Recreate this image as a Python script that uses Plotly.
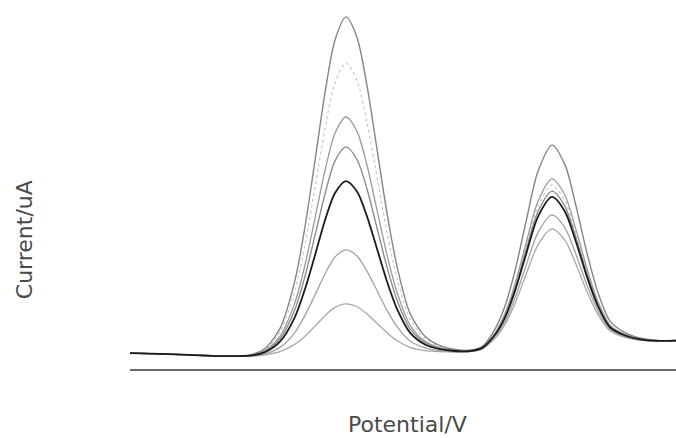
import plotly.graph_objects as go

# Potential sweep (V)
potential = [-1.0, -0.94, -0.88, -0.82, -0.78, -0.76, -0.73, -0.70, -0.67, -0.65,
             -0.63, -0.61, -0.59, -0.568, -0.546, -0.526, -0.506, -0.486, -0.466, -0.44,
             -0.41, -0.38, -0.35, -0.32, -0.296, -0.27, -0.25, -0.23, -0.208, -0.184,
             -0.156, -0.13, -0.108, -0.086, -0.064, -0.04, -0.01, 0.02, 0.056, 0.092]

# Current responses (uA) of the individual scans
current_a = [0.44, 0.42, 0.39, 0.36, 0.37, 0.39, 0.57, 1.13, 2.47, 3.95,
             5.79, 7.67, 9.14, 9.78, 9.21, 7.87, 6.11, 4.33, 2.85, 1.55,
             0.91, 0.65, 0.54, 0.52, 0.62, 1.11, 1.75, 2.73, 4.09, 5.49,
             6.22, 5.67, 4.53, 3.22, 2.12, 1.33, 1.01, 0.86, 0.79, 0.80]
current_b = [0.44, 0.42, 0.39, 0.36, 0.36, 0.39, 0.54, 1.03, 2.19, 3.46,
             5.05, 6.67, 7.95, 8.50, 8.01, 6.85, 5.33, 3.80, 2.52, 1.40,
             0.85, 0.63, 0.53, 0.51, 0.59, 0.99, 1.50, 2.30, 3.39, 4.52,
             5.11, 4.67, 3.76, 2.71, 1.83, 1.20, 0.95, 0.83, 0.78, 0.79]
current_c = [0.44, 0.42, 0.39, 0.36, 0.36, 0.38, 0.51, 0.91, 1.85, 2.89,
             4.19, 5.51, 6.55, 7.00, 6.60, 5.66, 4.42, 3.17, 2.13, 1.22,
             0.77, 0.59, 0.51, 0.51, 0.60, 1.00, 1.54, 2.36, 3.49, 4.66,
             5.28, 4.82, 3.87, 2.79, 1.87, 1.22, 0.96, 0.84, 0.79, 0.79]
current_d = [0.44, 0.42, 0.39, 0.36, 0.36, 0.38, 0.49, 0.84, 1.66, 2.58,
             3.71, 4.86, 5.78, 6.17, 5.82, 5.00, 3.92, 2.83, 1.92, 1.12,
             0.73, 0.57, 0.51, 0.50, 0.59, 0.97, 1.47, 2.23, 3.29, 4.37,
             4.94, 4.52, 3.64, 2.64, 1.79, 1.18, 0.94, 0.83, 0.78, 0.79]
current_e = [0.44, 0.42, 0.39, 0.36, 0.36, 0.37, 0.47, 0.76, 1.45, 2.22,
             3.16, 4.13, 4.89, 5.22, 4.93, 4.24, 3.34, 2.43, 1.67, 1.01,
             0.68, 0.55, 0.50, 0.50, 0.58, 0.95, 1.43, 2.17, 3.18, 4.23,
             4.78, 4.37, 3.53, 2.56, 1.74, 1.16, 0.93, 0.82, 0.78, 0.79]
current_f = [0.44, 0.42, 0.39, 0.36, 0.35, 0.36, 0.42, 0.60, 1.02, 1.49,
             2.06, 2.64, 3.11, 3.31, 3.14, 2.72, 2.18, 1.63, 1.18, 0.78,
             0.59, 0.51, 0.48, 0.49, 0.57, 0.90, 1.32, 1.97, 2.87, 3.79,
             4.28, 3.92, 3.18, 2.33, 1.61, 1.10, 0.90, 0.81, 0.78, 0.79]
current_g = [0.44, 0.42, 0.39, 0.36, 0.35, 0.35, 0.39, 0.48, 0.69, 0.91,
             1.19, 1.48, 1.71, 1.81, 1.73, 1.53, 1.27, 1.01, 0.79, 0.60,
             0.51, 0.48, 0.47, 0.48, 0.56, 0.85, 1.24, 1.82, 2.62, 3.45,
             3.89, 3.57, 2.91, 2.15, 1.51, 1.06, 0.88, 0.80, 0.77, 0.79]

# (values, colour, width, dash)
scans = [
    (current_b, "#c6c6c6", 1.2, "dot"),
    (current_g, "#a8a8a8", 1.3, "solid"),
    (current_f, "#a2a2a2", 1.3, "solid"),
    (current_c, "#9a9a9a", 1.3, "solid"),
    (current_d, "#8c8c8c", 1.4, "solid"),
    (current_a, "#858585", 1.4, "solid"),
    (current_e, "#1c1c1c", 1.8, "solid"),
]

fig = go.Figure()
for values, color, width, dash in scans:
    fig.add_trace(go.Scatter(
        x=potential, y=values, mode="lines",
        line=dict(color=color, width=width, dash=dash, shape="spline", smoothing=0.8),
        hoverinfo="skip", showlegend=False,
    ))

fig.update_layout(
    width=676, height=438,
    margin=dict(l=130, r=0, t=9, b=69),
    paper_bgcolor="white", plot_bgcolor="white",
    showlegend=False,
    xaxis=dict(range=[-1.0, 0.092], showline=True, linecolor="#6a6a6a", linewidth=1.5,
               showgrid=False, zeroline=False, ticks="", showticklabels=False),
    yaxis=dict(range=[0, 10], visible=False, showgrid=False, zeroline=False),
    annotations=[
        dict(text="Potential/V", xref="paper", yref="paper", x=0.509, y=-0.155,
             xanchor="center", yanchor="middle", showarrow=False,
             font=dict(family="DejaVu Sans", size=22, color="#4a4a4a")),
        dict(text="Current/uA", xref="paper", yref="paper", x=-0.194, y=0.358,
             xanchor="center", yanchor="middle", showarrow=False, textangle=-90,
             font=dict(family="DejaVu Sans", size=22, color="#4a4a4a")),
    ],
)

fig.write_html("out.html")
